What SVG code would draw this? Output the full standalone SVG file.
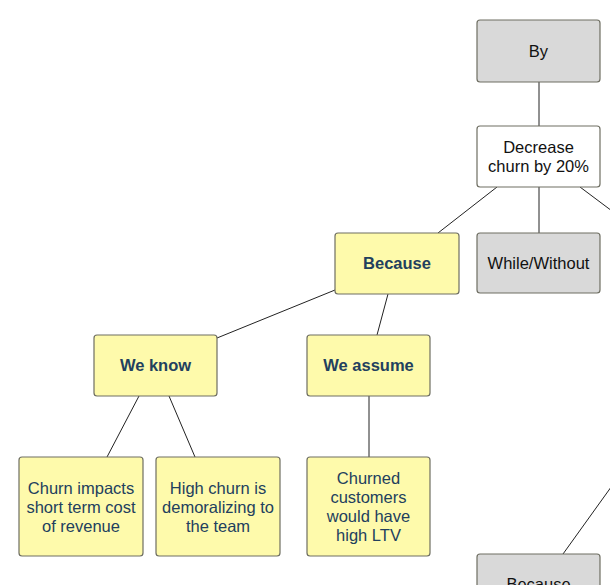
<svg xmlns="http://www.w3.org/2000/svg" width="610" height="585" viewBox="0 0 610 585">
<style>
.box{stroke:#6e6e62;stroke-width:1.2}
.gray{fill:#d9d9d9}
.white{fill:#ffffff}
.yel{fill:#fefaab}
text{font-family:"Liberation Sans",Arial,sans-serif;font-size:16.5px;text-anchor:middle}
.dk{fill:#111111}
.bl{fill:#22405e}
.b{font-weight:bold}
.c line{stroke:#222;stroke-width:1}
</style>
<rect width="610" height="585" fill="#ffffff"/>
<g class="c" id="connectors">
<line x1="539" y1="82" x2="539" y2="126"/>
<line x1="539" y1="187" x2="539" y2="233"/>
<line x1="497" y1="187" x2="438" y2="233"/>
<line x1="580" y1="187" x2="616" y2="214"/>
<line x1="388" y1="294" x2="377" y2="335"/>
<line x1="335" y1="290" x2="217" y2="338"/>
<line x1="139" y1="396" x2="107" y2="457"/>
<line x1="169" y1="396" x2="195" y2="457"/>
<line x1="369" y1="396" x2="369" y2="457"/>
<line x1="563" y1="554" x2="614" y2="483"/>
</g>
<g id="by"><rect class="box gray" x="477" y="20" width="123" height="62" rx="3"/><text class="dk" x="538.5" y="57">By</text></g>
<g id="decrease"><rect class="box white" x="477" y="126" width="123" height="61" rx="3"/><text class="dk" x="538.5" y="153">Decrease</text><text class="dk" x="538.5" y="172">churn by 20%</text></g>
<g id="while"><rect class="box gray" x="477" y="233" width="123" height="60" rx="3"/><text class="dk" x="538.5" y="269">While/Without</text></g>
<g id="because"><rect class="box yel" x="335" y="233" width="124" height="61" rx="3"/><text class="bl b" x="397" y="269">Because</text></g>
<g id="weknow"><rect class="box yel" x="94" y="335" width="123" height="61" rx="3"/><text class="bl b" x="155.5" y="371">We know</text></g>
<g id="weassume"><rect class="box yel" x="307" y="335" width="123" height="61" rx="3"/><text class="bl b" x="368.5" y="371">We assume</text></g>
<g id="leaf1"><rect class="box yel" x="19" y="457" width="124" height="99" rx="3"/><text class="bl" x="81" y="494">Churn impacts</text><text class="bl" x="81" y="513">short term cost</text><text class="bl" x="81" y="532">of revenue</text></g>
<g id="leaf2"><rect class="box yel" x="156" y="457" width="124" height="99" rx="3"/><text class="bl" x="218" y="494">High churn is</text><text class="bl" x="218" y="513">demoralizing to</text><text class="bl" x="218" y="532">the team</text></g>
<g id="leaf3"><rect class="box yel" x="307" y="457" width="123" height="99" rx="3"/><text class="bl" x="368.5" y="484">Churned</text><text class="bl" x="368.5" y="503">customers</text><text class="bl" x="368.5" y="522">would have</text><text class="bl" x="368.5" y="541">high LTV</text></g>
<g id="because2"><rect class="box gray" x="477" y="554" width="123" height="61" rx="3"/><text class="dk" x="538.5" y="590">Because</text></g>
</svg>
